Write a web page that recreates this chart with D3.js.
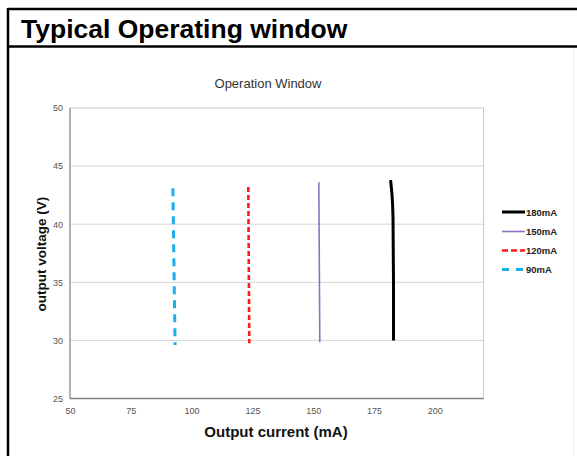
<!DOCTYPE html>
<html><head><meta charset="utf-8">
<script src="https://cdn.jsdelivr.net/npm/d3@7/dist/d3.min.js"></script>
<style>body{margin:0;background:#fff}svg{display:block}text{font-family:"Liberation Sans",Arial,sans-serif}</style>
</head><body><svg id="c" width="577" height="456"></svg>
<script>
const xTicks = [50, 75, 100, 125, 150, 175, 200];
const yTicks = [25, 30, 35, 40, 45, 50];
const seriesNames = ["180mA", "150mA", "120mA", "90mA"];
const s180 = [[181.8, 43.8], [182.4, 42.5], [182.8, 40.5], [183.0, 35], [183.0, 30.0]];
const s150 = [[152.3, 43.6], [152.7, 29.85]];
const s120 = [[123.3, 43.2], [123.7, 29.75]];
const s90 = [[92.3, 43.1], [93.2, 29.6]];

const svg = d3.select("#c");
// frame
svg.append("line").attr("x1",573.5).attr("x2",573.5).attr("y1",47).attr("y2",456).attr("stroke","#eeeeee").attr("stroke-width",1);
svg.append("line").attr("x1",8).attr("x2",577).attr("y1",9).attr("y2",9).attr("stroke","#000").attr("stroke-width",2.5);
svg.append("line").attr("x1",8).attr("x2",8).attr("y1",8).attr("y2",456).attr("stroke","#000").attr("stroke-width",2.5);
svg.append("line").attr("x1",8).attr("x2",577).attr("y1",46.5).attr("y2",46.5).attr("stroke","#000").attr("stroke-width",2.5);
svg.append("text").attr("x",21).attr("y",38).attr("font-size",26.5).attr("font-weight","bold").attr("fill","#000").text("Typical Operating window");

const x = d3.scaleLinear().domain([50, 220]).range([70, 483.5]);
const y = d3.scaleLinear().domain([25, 50]).range([398.5, 108]);

// grid
svg.append("g").selectAll("line").data(yTicks.filter(d=>d>25&&d<50)).join("line")
  .attr("x1",x(50)).attr("x2",x(220)).attr("y1",d=>y(d)).attr("y2",d=>y(d)).attr("stroke","#d4d4d4").attr("stroke-width",1);
// plot border
svg.append("rect").attr("x",x(50)).attr("y",y(50)).attr("width",x(220)-x(50)).attr("height",y(25)-y(50)).attr("fill","none").attr("stroke","#c8c8c8").attr("stroke-width",1);
svg.append("line").attr("x1",x(50)).attr("x2",x(220)).attr("y1",y(25)).attr("y2",y(25)).attr("stroke","#808080").attr("stroke-width",1.5);
svg.append("line").attr("x1",x(50)).attr("x2",x(50)).attr("y1",y(25)).attr("y2",y(50)).attr("stroke","#909090").attr("stroke-width",1.2);

// axes
const ax = svg.append("g").attr("transform",`translate(0,${y(25)})`).call(d3.axisBottom(x).tickValues(xTicks).tickSize(0).tickPadding(9));
ax.select(".domain").remove();
ax.selectAll("text").attr("font-size",9).attr("fill","#555").style("font-family","'Liberation Sans',Arial,sans-serif");
const ay = svg.append("g").attr("transform",`translate(${x(50)},0)`).call(d3.axisLeft(y).tickValues(yTicks).tickSize(0).tickPadding(7));
ay.select(".domain").remove();
ay.selectAll("text").attr("font-size",9).attr("fill","#555").style("font-family","'Liberation Sans',Arial,sans-serif");

svg.append("text").attr("x",268).attr("y",88).attr("text-anchor","middle").attr("font-size",13).attr("fill","#333").text("Operation Window");
svg.append("text").attr("x",276).attr("y",437).attr("text-anchor","middle").attr("font-size",15).attr("font-weight","bold").attr("fill","#111").text("Output current (mA)");
svg.append("text").attr("transform","translate(46,254) rotate(-90)").attr("text-anchor","middle").attr("font-size",13.5).attr("font-weight","bold").attr("fill","#111").text("output voltage (V)");

const line = d3.line().x(d=>x(d[0])).y(d=>y(d[1])).curve(d3.curveMonotoneY);
const styles = [
  {data:s180, color:"#000", w:3, dash:null},
  {data:s150, color:"#8e72c2", w:1.6, dash:null},
  {data:s120, color:"#ff1a1a", w:2.6, dash:"5,3"},
  {data:s90, color:"#1aaeea", w:3, dash:"8,6"}
];
styles.forEach(s=>{
  svg.append("path").datum(s.data).attr("d",line).attr("fill","none").attr("stroke",s.color).attr("stroke-width",s.w)
    .attr("stroke-dasharray",s.dash);
});
// legend
const ly = [212, 231.5, 250.5, 269.5];
seriesNames.forEach((n,i)=>{
  const s = styles[i];
  svg.append("line").attr("x1",502).attr("x2",525).attr("y1",ly[i]).attr("y2",ly[i]).attr("stroke",s.color).attr("stroke-width",s.w)
    .attr("stroke-dasharray", s.dash ? (i==2?"6,3":"7,7") : null);
  svg.append("text").attr("x",526).attr("y",ly[i]+3.5).attr("font-size",9.5).attr("font-weight","bold").attr("fill","#222").text(n);
});
</script></body></html>
